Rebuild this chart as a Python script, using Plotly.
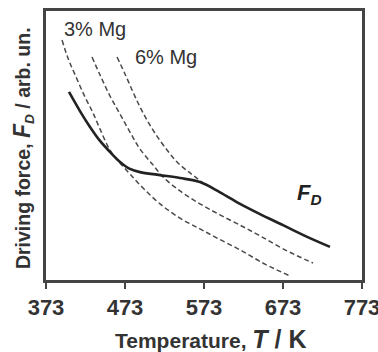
import plotly.graph_objects as go

# Temperature (K) and driving force (arb. units, 0-100)
fd_T = [402.1, 416.0, 428.7, 441.4, 454.0, 466.7, 479.3, 492.0, 517.3, 542.6,
        567.9, 593.3, 618.6, 643.9, 673.0, 700.8, 732.5]
fd_F = [69.9, 62.8, 56.9, 51.7, 47.6, 43.9, 41.3, 40.1, 39.0, 37.9,
        36.4, 32.6, 28.3, 24.5, 20.4, 16.4, 12.3]

mg3_T = [393.3, 400.8, 411.0, 422.4, 432.5, 441.4, 454.0, 466.7, 479.3, 495.8,
         517.3, 542.6, 567.9, 589.5, 618.6, 650.2, 681.9]
mg3_F = [89.2, 82.5, 75.5, 68.0, 62.1, 56.1, 48.3, 43.5, 39.4, 34.2,
         28.3, 23.0, 19.0, 15.6, 11.2, 5.9, 1.5]

mid_T = [431.2, 441.4, 454.0, 466.7, 479.3, 492.0, 508.4, 521.1, 542.6, 567.9,
         593.3, 618.6, 643.9, 675.5, 711.0]
mid_F = [82.9, 76.2, 68.4, 61.7, 55.0, 48.7, 42.8, 38.3, 33.1, 28.3,
         24.2, 20.4, 16.4, 11.2, 6.3]

mg6_T = [462.9, 473.0, 483.1, 492.0, 500.8, 510.9, 526.2, 540.1, 555.3, 571.7]
mg6_F = [82.9, 76.6, 69.9, 64.3, 59.5, 54.6, 48.3, 43.5, 39.8, 36.1]

x_ticks = [373, 473, 573, 673, 773]

FONT = "Liberation Sans, Arial, sans-serif"
dash_style = dict(color="#4a4a4a", width=1.5, dash="5px,3px", shape="spline")

fig = go.Figure()
for xs, ys in [(mg3_T, mg3_F), (mid_T, mid_F), (mg6_T, mg6_F)]:
    fig.add_trace(go.Scatter(x=xs, y=ys, mode="lines", line=dash_style,
                             showlegend=False, hoverinfo="skip"))
fig.add_trace(go.Scatter(x=fd_T, y=fd_F, mode="lines",
                         line=dict(color="#222222", width=2.6, shape="spline"),
                         showlegend=False))

fig.update_layout(
    width=378, height=352,
    margin=dict(l=46, r=16, t=11, b=72, autoexpand=False),
    paper_bgcolor="white", plot_bgcolor="white",
    font=dict(family=FONT, color="#333333"),
    xaxis=dict(range=[373, 773], tickvals=x_ticks,
               ticktext=[str(v) for v in x_ticks],
               ticks="outside", ticklen=6, tickwidth=2, tickcolor="#444444",
               ticklabeloverflow="allow", automargin=False,
               showline=True, linecolor="#444444", linewidth=2.5, mirror=True,
               showgrid=False, zeroline=False,
               tickfont=dict(family=FONT, size=22, weight="bold", color="#333333")),
    yaxis=dict(range=[0, 100], showticklabels=False, ticks="", automargin=False,
               showline=True, linecolor="#444444", linewidth=2.5, mirror=True,
               showgrid=False, zeroline=False),
    annotations=[
        dict(text="Temperature, <span style='font-size:25px'><i>T</i> / K</span>",
             xref="paper", yref="paper", x=0.522, y=-0.219,
             xanchor="center", yanchor="middle", showarrow=False,
             font=dict(family=FONT, size=21, weight="bold", color="#333333")),
        dict(text="Driving force, <span style='font-size:23px'><i>F</i></span><sub><i>D</i></sub> / arb. un.",
             xref="paper", yref="paper", x=-0.073, y=0.49, textangle=-90,
             xanchor="center", yanchor="middle", showarrow=False,
             font=dict(family=FONT, size=19.5, weight="bold", color="#333333")),
        dict(text="3% Mg", xref="paper", yref="paper", x=0.0506, y=0.933,
             xanchor="left", yanchor="middle", showarrow=False,
             font=dict(family=FONT, size=20, color="#333333")),
        dict(text="6% Mg", xref="paper", yref="paper", x=0.275, y=0.829,
             xanchor="left", yanchor="middle", showarrow=False,
             font=dict(family=FONT, size=20, color="#333333")),
        dict(text="<i>F</i><sub><i>D</i></sub>", xref="paper", yref="paper",
             x=0.788, y=0.32, xanchor="left", yanchor="middle", showarrow=False,
             font=dict(family=FONT, size=22, weight="bold", color="#222222")),
    ],
)

fig.write_html("out.html")
